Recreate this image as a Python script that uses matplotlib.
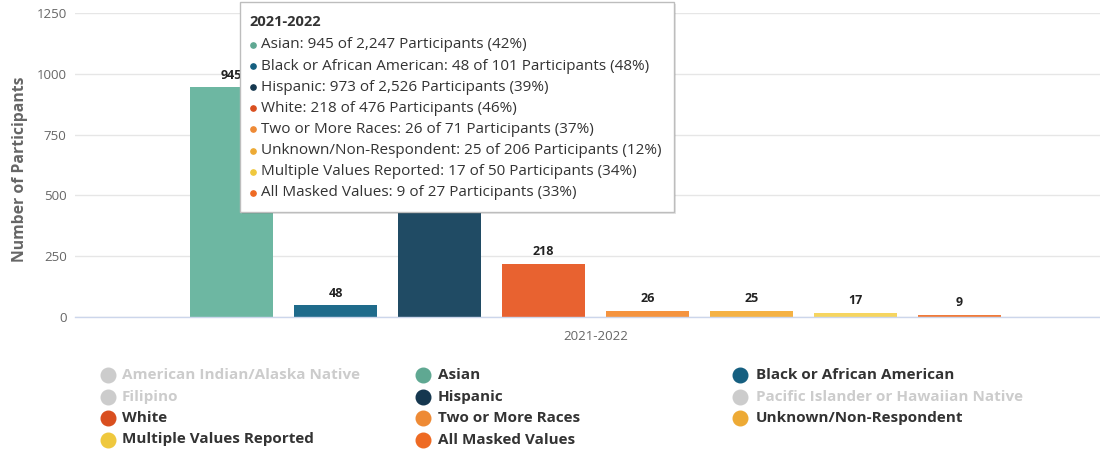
import matplotlib
matplotlib.use('Agg')
import matplotlib.pyplot as plt
from matplotlib.patches import Rectangle
from matplotlib.lines import Line2D
import numpy as np

plt.rcParams['font.family'] = ['Open Sans', 'DejaVu Sans']

# ---------------- data ----------------
category = "2021-2022"
series = ["Asian", "Black or African American", "Hispanic", "White",
          "Two or More Races", "Unknown/Non-Respondent",
          "Multiple Values Reported", "All Masked Values"]
values = [945, 48, 973, 218, 26, 25, 17, 9]
totals = [2247, 101, 2526, 476, 71, 206, 50, 27]
bar_colors = ["#6db7a2", "#1f6b8b", "#204b64", "#e86230",
              "#f5943f", "#f5b244", "#f6d560", "#f07a3a"]

legend_labels = ["American Indian/Alaska Native", "Asian", "Black or African American",
                 "Filipino", "Hispanic", "Pacific Islander or Hawaiian Native",
                 "White", "Two or More Races", "Unknown/Non-Respondent",
                 "Multiple Values Reported", "All Masked Values"]
legend_active = [False, True, True, False, True, False, True, True, True, True, True]
legend_colors = ["#cccccc", "#5fa892", "#155f80", "#cccccc", "#15374f", "#cccccc",
                 "#d94f1f", "#ee8a35", "#edaa35", "#efc83d", "#ee6a23"]
tooltip_dot_colors = ["#5fa892", "#155f80", "#15374f", "#d94f1f",
                      "#ee8a35", "#edaa35", "#efc83d", "#ee6a23"]

y_ticks = [0, 250, 500, 750, 1000, 1250]
y_title = "Number of Participants"

# ---------------- figure ----------------
W, H = 1100, 450
fig = plt.figure(figsize=(W / 100, H / 100), dpi=100)
fig.patch.set_facecolor('white')

def fx(px):
    return px / W

def fy(py):
    return 1 - py / H

ax = fig.add_axes([fx(75), fy(317), fx(1100) - fx(75), fy(13) - fy(317)])

n = len(series)
offsets = np.arange(n) - (n - 1) / 2
ax.bar(offsets, values, width=0.8, color=bar_colors, zorder=2, linewidth=0)

for x, v in zip(offsets, values):
    ax.annotate(f"{v}", (x, v), xytext=(0, 4), textcoords='offset points',
                ha='center', va='bottom', fontsize=9, fontweight='bold',
                color='#222222', zorder=3)

ax.set_ylim(0, 1250)
ax.set_xlim(-5.005, 4.851)
ax.set_yticks(y_ticks)
ax.set_yticklabels([str(t) for t in y_ticks])
ax.set_xticks([0])
ax.set_xticklabels([category])
ax.tick_params(axis='y', length=0, pad=6, labelsize=9.5, labelcolor='#666666')
ax.tick_params(axis='x', length=0, pad=9, labelsize=9.5, labelcolor='#666666')
ax.yaxis.grid(True, color='#e6e6e6', linewidth=1)
ax.set_axisbelow(True)
for s in ['top', 'right', 'left']:
    ax.spines[s].set_visible(False)
ax.spines['bottom'].set_color('#ccd6eb')
ax.spines['bottom'].set_linewidth(1)

fig.text(fx(20), fy(169), y_title, rotation=90, ha='center', va='center',
         fontsize=11.3, fontweight='bold', color='#666666')

# ---------------- tooltip ----------------
bx0, bx1, by0, by1 = 240, 674, 2, 212
shadow = Rectangle((fx(bx0 + 2), fy(by1 + 2)), fx(bx1) - fx(bx0), fy(by0) - fy(by1),
                   transform=fig.transFigure, facecolor='#000000', alpha=0.10,
                   edgecolor='none', zorder=10)
fig.add_artist(shadow)
box = Rectangle((fx(bx0), fy(by1)), fx(bx1) - fx(bx0), fy(by0) - fy(by1),
                transform=fig.transFigure, facecolor='white', alpha=1.0,
                edgecolor='#bdbdbd', linewidth=1, zorder=11)
fig.add_artist(box)

fig.text(fx(249), fy(22), category, ha='left', va='center', fontsize=10.5,
         fontweight='bold', color='#333333', zorder=12)
for i, (name, v, t) in enumerate(zip(series, values, totals)):
    yy = 45 + i * 21.1
    pct = int(round(100 * v / t))
    fig.add_artist(Line2D([fx(253)], [fy(yy)], marker='o', markersize=3.8,
                          color=tooltip_dot_colors[i], transform=fig.transFigure,
                          zorder=12, linestyle='none'))
    fig.text(fx(261), fy(yy), f"{name}: {v} of {t:,} Participants ({pct}%)",
             ha='left', va='center', fontsize=11, color='#333333', zorder=12)

# ---------------- legend ----------------
col_marker_x = [107.5, 422.5, 740]
col_text_x = [122, 438, 756]
row_y = [375.3, 396.7, 418.1, 439.5]
for i, (lab, act, col) in enumerate(zip(legend_labels, legend_active, legend_colors)):
    r, c = divmod(i, 3)
    fig.add_artist(Line2D([fx(col_marker_x[c])], [fy(row_y[r])], marker='o',
                          markersize=10.5, color=col, transform=fig.transFigure,
                          linestyle='none'))
    fig.text(fx(col_text_x[c]), fy(row_y[r]), lab, ha='left', va='center',
             fontsize=11, fontweight='bold',
             color='#333333' if act else '#cccccc')

fig.savefig('out.png', dpi=100, facecolor='white')
